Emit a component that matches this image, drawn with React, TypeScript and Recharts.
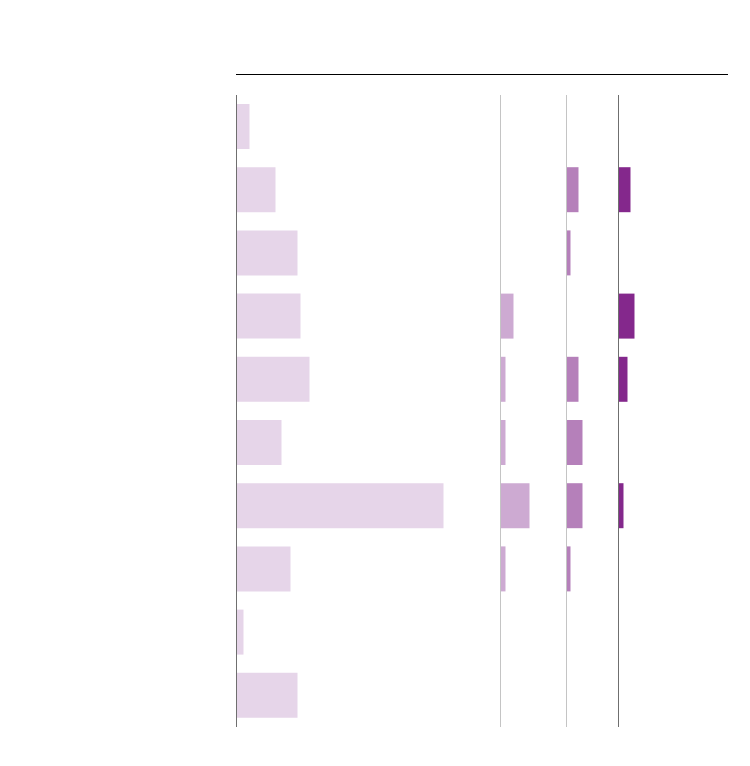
import React from "react";
import { Bar, BarChart, ReferenceLine, XAxis, YAxis } from "recharts";

const rows = ["r1", "r2", "r3", "r4", "r5", "r6", "r7", "r8", "r9", "r10"];

const seriesA = [13, 39, 61, 64, 73, 45, 207, 54, 7, 61];
const seriesB = [0, 0, 0, 13, 5, 5, 29, 5, 0, 0];
const seriesC = [0, 12, 4, 0, 12, 16, 16, 4, 0, 0];
const seriesD = [0, 12, 0, 16, 9, 0, 5, 0, 0, 0];

const columns = [
  { key: "a", values: seriesA, left: 236, width: 264, fill: "#e6d5e9", line: "#6f6f6f" },
  { key: "b", values: seriesB, left: 500, width: 66, fill: "#cdaad2", line: "#c4c4c4" },
  { key: "c", values: seriesC, left: 566, width: 52, fill: "#b580ba", line: "#c4c4c4" },
  { key: "d", values: seriesD, left: 618, width: 110, fill: "#84288c", line: "#6f6f6f" },
];

const TOP = 95;
const PLOT_H = 632;
const PAD = 4;

export default function App() {
  return (
    <div style={{ position: "absolute", left: 0, top: 0, width: 750, height: 766, background: "#fff" }}>
      <div
        style={{
          position: "absolute",
          left: 236,
          top: 74,
          width: 492,
          height: 0,
          borderTop: "1px solid #000",
        }}
      />
      {columns.map((col) => {
        const data = rows.map((r, i) => ({ row: r, value: col.values[i] }));
        return (
          <div
            key={col.key}
            style={{ position: "absolute", left: col.left - PAD, top: TOP }}
          >
            <BarChart
              width={col.width + PAD}
              height={PLOT_H}
              data={data}
              layout="vertical"
              margin={{ top: 0, right: 0, bottom: 0, left: PAD + 0.5 }}
              barSize={45}
            >
              <XAxis type="number" domain={[0, col.width - 0.5]} hide />
              <YAxis type="category" dataKey="row" hide />
              <Bar dataKey="value" fill={col.fill} isAnimationActive={false} />
              <ReferenceLine x={0} stroke={col.line} strokeWidth={1} />
            </BarChart>
          </div>
        );
      })}
    </div>
  );
}
